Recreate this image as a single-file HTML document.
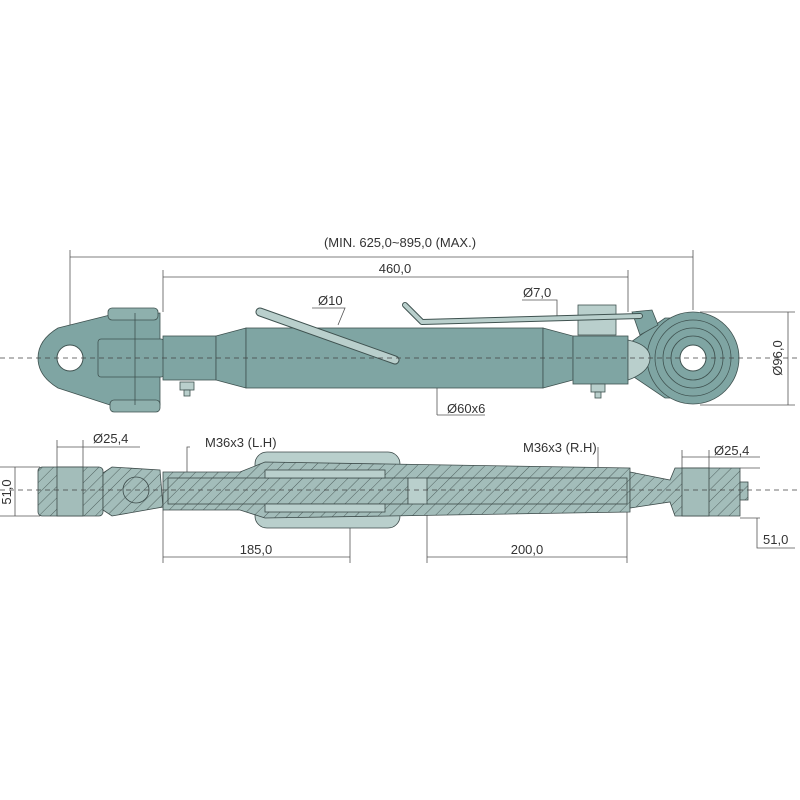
<!DOCTYPE html>
<html><head><style>body{margin:0;background:#fff}svg{display:block}text{font-family:"Liberation Sans",sans-serif;font-size:13px;fill:#333}</style></head><body>
<svg width="800" height="800" viewBox="0 0 800 800" xmlns="http://www.w3.org/2000/svg">
<defs>
<pattern id="h" patternUnits="userSpaceOnUse" width="8" height="8" patternTransform="rotate(45)">
<rect width="8" height="8" fill="#a3bdba"/><line x1="0" y1="0" x2="0" y2="8" stroke="#3c4a49" stroke-width="0.8"/></pattern>
</defs>
<g stroke="#555" stroke-width="0.8" fill="none">
<line x1="70" y1="257" x2="693" y2="257"/><line x1="70" y1="250" x2="70" y2="330"/><line x1="693" y1="250" x2="693" y2="310"/>
<line x1="163" y1="277" x2="628" y2="277"/><line x1="163" y1="270" x2="163" y2="312"/><line x1="628" y1="270" x2="628" y2="312"/>
<line x1="700" y1="312" x2="795" y2="312"/><line x1="700" y1="405" x2="795" y2="405"/><line x1="788" y1="312" x2="788" y2="405"/>
<polyline points="312,308 345,308 338,325"/>
<polyline points="522,300 557,300 557,320"/>
<polyline points="437,415 437,335"/><line x1="437" y1="415" x2="485" y2="415"/>
<line x1="57" y1="447" x2="140" y2="447"/><line x1="57" y1="440" x2="57" y2="470"/><line x1="83" y1="440" x2="83" y2="470"/>
<line x1="0" y1="467" x2="40" y2="467"/><line x1="0" y1="516" x2="40" y2="516"/><line x1="15" y1="467" x2="15" y2="516"/>
<polyline points="190,447 187,447 187,475"/>
<polyline points="598,447 598,472"/>
<line x1="682" y1="457" x2="760" y2="457"/><line x1="682" y1="450" x2="682" y2="470"/><line x1="709" y1="450" x2="709" y2="470"/>
<line x1="740" y1="468" x2="760" y2="468"/><line x1="740" y1="518" x2="760" y2="518"/><polyline points="757,518 757,548 795,548"/>
<line x1="163" y1="557" x2="350" y2="557"/><line x1="163" y1="510" x2="163" y2="563"/><line x1="350" y1="510" x2="350" y2="563"/>
<line x1="427" y1="557" x2="627" y2="557"/><line x1="427" y1="510" x2="427" y2="563"/><line x1="627" y1="510" x2="627" y2="563"/>
</g>
<g stroke="#3f5250" stroke-width="0.8">
<path d="M110,315 L58,328 Q38,340 38,358 Q38,376 58,388 L110,405 L160,405 L160,313 Z" fill="#7fa5a3"/>
<rect x="108" y="308" width="50" height="12" rx="4" fill="#8eb0ad"/>
<rect x="110" y="400" width="50" height="12" rx="4" fill="#8eb0ad"/>
<rect x="98" y="339" width="66" height="38" rx="3" fill="#7fa5a3"/>
<line x1="135" y1="313" x2="135" y2="405"/>
<rect x="163" y="336" width="53" height="44" fill="#7fa5a3"/>
<polygon points="216,336 246,328 246,388 216,380" fill="#7fa5a3"/>
<rect x="246" y="328" width="297" height="60" fill="#7fa5a3"/>
<polygon points="543,328 573,336 573,380 543,388" fill="#7fa5a3"/>
<rect x="573" y="336" width="55" height="48" fill="#7fa5a3"/>
<path d="M631,342 L665,318 L690,318 L690,398 L665,398 L631,375 Z" fill="#7fa5a3"/>
<path d="M632,312 L652,310 L658,325 L640,335 Z" fill="#7fa5a3"/>
<circle cx="693" cy="358" r="46" fill="#7fa5a3"/>
<circle cx="693" cy="358" r="38" fill="none"/><circle cx="693" cy="358" r="30" fill="none"/><circle cx="693" cy="358" r="22" fill="none"/>
<path d="M628,340 Q650,345 650,358 Q650,372 628,380 Z" fill="#b9cfcc"/>
<rect x="578" y="305" width="38" height="30" fill="#b9cfcc"/>
<rect x="180" y="382" width="14" height="8" fill="#b9cfcc"/><rect x="184" y="390" width="6" height="6" fill="#b9cfcc"/>
<rect x="591" y="384" width="14" height="8" fill="#b9cfcc"/><rect x="595" y="392" width="6" height="6" fill="#b9cfcc"/>
</g>
<circle cx="70" cy="358" r="13" fill="#fff" stroke="#3f5250"/>
<circle cx="693" cy="358" r="13" fill="#fff" stroke="#3f5250"/>
<path d="M260,312 L395,360" stroke="#3f5250" stroke-width="9" stroke-linecap="round"/>
<path d="M260,312 L395,360" stroke="#b9cfcc" stroke-width="7" stroke-linecap="round"/>
<path d="M405,305 L422,322 L640,316" stroke="#3f5250" stroke-width="6" fill="none" stroke-linecap="round" stroke-linejoin="round"/>
<path d="M405,305 L422,322 L640,316" stroke="#b9cfcc" stroke-width="4" fill="none" stroke-linecap="round" stroke-linejoin="round"/>
<line x1="0" y1="358" x2="800" y2="358" stroke="#444" stroke-width="0.8" stroke-dasharray="5,4"/>
<g stroke="#3c4a49" stroke-width="0.8">
<rect x="255" y="452" width="145" height="76" rx="12" fill="#b9cfcc"/>
<rect x="38" y="467" width="65" height="49" rx="4" fill="url(#h)"/>
<rect x="57" y="467" width="26" height="49" fill="#a3bdba"/>
<path d="M103,473 L112,467 L160,470 L163,507 L112,516 L103,510 Z" fill="url(#h)"/>
<circle cx="136" cy="490" r="13" fill="url(#h)"/>
<path d="M163,472 L240,472 L265,462 L630,468 L630,512 L265,518 L240,510 L163,510 Z" fill="url(#h)"/>
<rect x="168" y="478" width="240" height="26" fill="url(#h)"/>
<rect x="408" y="478" width="20" height="26" fill="#b9cfcc"/>
<rect x="265" y="470" width="120" height="8" fill="#b9cfcc"/><rect x="265" y="504" width="120" height="8" fill="#b9cfcc"/>
<rect x="427" y="478" width="200" height="26" fill="url(#h)"/>
<path d="M630,472 L670,480 L675,468 L740,468 L740,516 L675,516 L670,502 L630,508 Z" fill="url(#h)"/>
<rect x="682" y="468" width="27" height="48" fill="#a3bdba"/>
<rect x="740" y="482" width="8" height="18" fill="url(#h)"/>
</g>
<line x1="0" y1="490" x2="800" y2="490" stroke="#444" stroke-width="0.8" stroke-dasharray="5,4"/>
<text x="400" y="247" text-anchor="middle">(MIN. 625,0~895,0 (MAX.)</text>
<text x="395" y="273" text-anchor="middle">460,0</text>
<text x="318" y="305">Ø10</text>
<text x="523" y="297">Ø7,0</text>
<text x="447" y="413">Ø60x6</text>
<text x="782" y="358" text-anchor="middle" transform="rotate(-90 782 358)">Ø96,0</text>
<text x="93" y="443">Ø25,4</text>
<text x="205" y="447">M36x3 (L.H)</text>
<text x="523" y="452">M36x3 (R.H)</text>
<text x="714" y="455">Ø25,4</text>
<text x="11" y="492" text-anchor="middle" transform="rotate(-90 11 492)">51,0</text>
<text x="763" y="544">51,0</text>
<text x="256" y="554" text-anchor="middle">185,0</text>
<text x="527" y="554" text-anchor="middle">200,0</text>
</svg>
</body></html>
